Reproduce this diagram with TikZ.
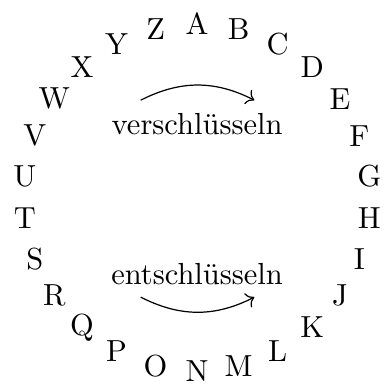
\documentclass[tikz,border=0pt]{standalone}
\usepackage{tikz}
\usetikzlibrary{arrows.meta}

\begin{document}
\begin{tikzpicture}[
  letter/.style={
    inner sep=3.33pt,
  },
  verb/.style={
    align=center,
  },
  bendarrow/.style={draw, ->},
]
\useasboundingbox (-2.272,-2.140) rectangle (2.166,2.275);
% alphabet on a circle, A on top, clockwise
\foreach \l [count=\i from 0] in {A,...,Z}
  \node[letter] (l\l) at ({90-\i*360/26}:2) {\l};

\node[verb] (enc) at (0,0.84) {verschlüsseln};
\node[verb] (dec) at (0,-0.89) {entschlüsseln};

\coordinate (encL) at (-0.65,1.12);
\coordinate (encR) at (0.66,1.12);
\coordinate (decL) at (-0.65,-1.15);
\coordinate (decR) at (0.66,-1.15);

\draw[bendarrow] (encL) to[bend left=27] (encR);
\draw[bendarrow] (decL) to[bend right=27] (decR);
\end{tikzpicture}
\end{document}
